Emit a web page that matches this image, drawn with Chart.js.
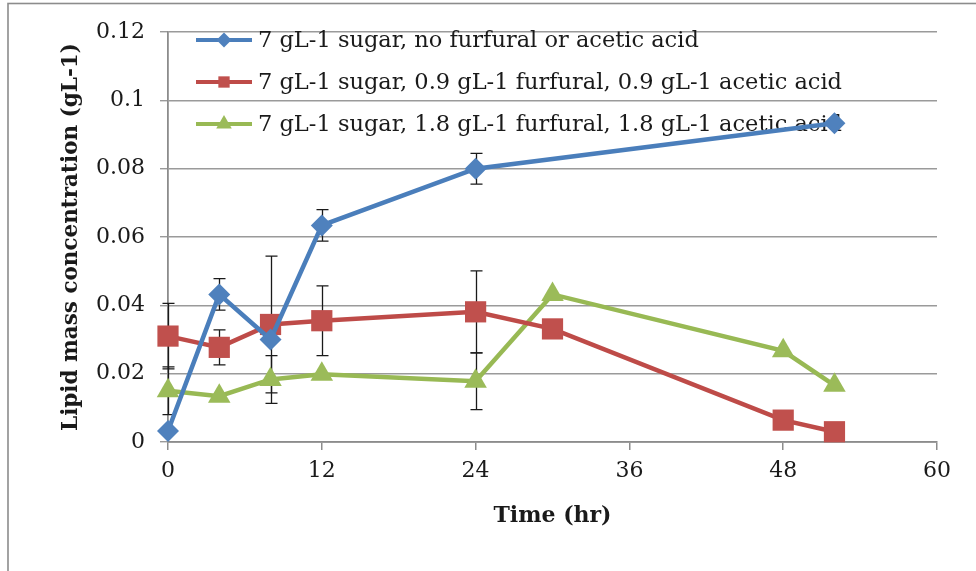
<!DOCTYPE html>
<html>
<head>
<meta charset="utf-8">
<script src="https://cdn.jsdelivr.net/npm/chart.js@4/dist/chart.umd.min.js"></script>
<style>
  html, body { margin: 0; padding: 0; background: #fff; }
  #wrap { width: 976px; height: 571px; position: relative; }
</style>
</head>
<body>
<div id="wrap"><canvas id="c" width="976" height="571"></canvas></div>
<script>
// Sampling times (hr)
const timesNone = [0, 4, 8, 12, 24, 52];
const timesLow = [0, 4, 8, 12, 24, 30, 48, 52];
const timesHigh = [0, 4, 8, 12, 24, 30, 48, 52];

// Lipid mass concentration (gL-1)
const lipidNone = [0.0032, 0.0432, 0.0300, 0.0634, 0.0800, 0.0933];
const lipidLow = [0.0310, 0.0277, 0.0344, 0.0355, 0.0381, 0.0331, 0.0064, 0.0030];
const lipidHigh = [0.0150, 0.0134, 0.0183, 0.0198, 0.0178, 0.0432, 0.0267, 0.0166];

// Error bar half-widths (null = no bar)
const errNone = [null, 0.0046, null, 0.0046, 0.0045, null];
const errLow = [0.0096, 0.0051, 0.0200, 0.0102, 0.0120, null, null, null];
const errHigh = [0.0070, null, 0.0070, null, 0.0083, null, null, null];

const seriesNames = [
  '7 gL-1 sugar, no furfural or acetic acid',
  '7 gL-1 sugar, 0.9 gL-1 furfural, 0.9 gL-1 acetic acid',
  '7 gL-1 sugar, 1.8 gL-1 furfural, 1.8 gL-1 acetic acid'
];

const xTicks = [0, 12, 24, 36, 48, 60];
const yTicks = [0, 0.02, 0.04, 0.06, 0.08, 0.1, 0.12];
const yTickLabels = ['0', '0.02', '0.04', '0.06', '0.08', '0.1', '0.12'];

const xTitle = 'Time (hr)';
const yTitle = 'Lipid mass concentration (gL-1)';

const FONT = "'DejaVu Serif', 'Liberation Serif', serif";

const toPoints = (xs, ys) => xs.map((x, i) => ({ x: x, y: ys[i] }));

const styles = [
  { line: '#4a7ebb', fill: '#4f81bd', shape: 'rectRot', r: 11, lr: 7.5 },
  { line: '#be4b48', fill: '#c0504d', shape: 'rect', r: 15, lr: 8 },
  { line: '#98b954', fill: '#9bbb59', shape: 'triangle', r: 13, lr: 9 }
];

const datasets = [
  { data: toPoints(timesNone, lipidNone), errors: errNone },
  { data: toPoints(timesLow, lipidLow), errors: errLow },
  { data: toPoints(timesHigh, lipidHigh), errors: errHigh }
].map((d, i) => ({
  label: seriesNames[i],
  data: d.data,
  errors: d.errors,
  borderColor: styles[i].line,
  backgroundColor: styles[i].fill,
  borderWidth: 4.5,
  pointStyle: styles[i].shape,
  pointRadius: styles[i].r,
  pointBackgroundColor: styles[i].fill,
  pointBorderColor: styles[i].fill,
  pointBorderWidth: 0,
  tension: 0,
  fill: false,
  clip: false
}));

// White page with the grey frame round the chart
const framePlugin = {
  id: 'frame',
  beforeDraw(chart) {
    const ctx = chart.ctx;
    ctx.save();
    ctx.fillStyle = '#ffffff';
    ctx.fillRect(0, 0, chart.width, chart.height);
    ctx.strokeStyle = '#8c8c8c';
    ctx.lineWidth = 1.6;
    ctx.strokeRect(8, 3.5, chart.width + 20, chart.height + 20);
    ctx.restore();
  }
};

// Vertical error bars with caps, under the markers
const errorBarPlugin = {
  id: 'errorBars',
  beforeDatasetsDraw(chart) {
    const ctx = chart.ctx;
    const yScale = chart.scales.y;
    const cap = 6;
    ctx.save();
    ctx.strokeStyle = '#1a1a1a';
    ctx.lineWidth = 1.3;
    chart.data.datasets.forEach((ds, di) => {
      const meta = chart.getDatasetMeta(di);
      ds.errors.forEach((e, i) => {
        if (e == null) return;
        const v = ds.data[i].y;
        const x = Math.round(meta.data[i].x) + 0.5;
        const yTop = yScale.getPixelForValue(v + e);
        const yBot = yScale.getPixelForValue(v - e);
        ctx.beginPath();
        ctx.moveTo(x, yTop);
        ctx.lineTo(x, yBot);
        ctx.moveTo(x - cap, yTop);
        ctx.lineTo(x + cap, yTop);
        ctx.moveTo(x - cap, yBot);
        ctx.lineTo(x + cap, yBot);
        ctx.stroke();
      });
    });
    ctx.restore();
  }
};

// Legend drawn inside the plot area, beneath the series lines
const legendPlugin = {
  id: 'insideLegend',
  beforeDatasetsDraw(chart) {
    const ctx = chart.ctx;
    const x0 = 196, x1 = 252, tx = 258;
    const rows = [40, 82, 124];
    ctx.save();
    chart.data.datasets.forEach((ds, i) => {
      const y = rows[i];
      ctx.strokeStyle = ds.borderColor;
      ctx.lineWidth = 4;
      ctx.beginPath();
      ctx.moveTo(x0, y);
      ctx.lineTo(x1, y);
      ctx.stroke();
      ctx.fillStyle = ds.pointBackgroundColor;
      ctx.strokeStyle = ds.pointBackgroundColor;
      Chart.helpers.drawPoint(ctx, {
        pointStyle: ds.pointStyle, radius: styles[i].lr, rotation: 0, borderWidth: 0
      }, (x0 + x1) / 2, y);
      ctx.fillStyle = '#1a1a1a';
      ctx.font = '22.5px ' + FONT;
      ctx.textBaseline = 'middle';
      ctx.textAlign = 'left';
      ctx.fillText(ds.label, tx, y + 1);
    });
    ctx.restore();
  }
};

new Chart(document.getElementById('c'), {
  type: 'line',
  data: { datasets: datasets },
  plugins: [framePlugin, errorBarPlugin, legendPlugin],
  options: {
    responsive: false,
    animation: false,
    layout: { padding: { top: 32, right: 39, left: 0, bottom: 0 } },
    plugins: { legend: { display: false }, tooltip: { enabled: false } },
    scales: {
      x: {
        type: 'linear',
        min: 0,
        max: 60,
        afterBuildTicks(scale) { scale.ticks = xTicks.map(v => ({ value: v })); },
        afterFit(scale) { scale.height = 129; },
        ticks: {
          color: '#1a1a1a',
          font: { family: FONT, size: 22 },
          padding: 8,
          maxRotation: 0
        },
        grid: {
          drawOnChartArea: false,
          drawTicks: true,
          tickLength: 8,
          color: '#8c8c8c',
          lineWidth: 1.5
        },
        border: { display: true, color: '#8c8c8c', width: 1.8 },
        title: {
          display: true,
          text: xTitle,
          color: '#1a1a1a',
          font: { family: FONT, size: 22, weight: 'bold' },
          padding: { top: 0, bottom: 42 }
        }
      },
      y: {
        type: 'linear',
        min: 0,
        max: 0.12,
        afterBuildTicks(scale) { scale.ticks = yTicks.map(v => ({ value: v })); },
        afterFit(scale) { scale.width = 168; },
        ticks: {
          color: '#1a1a1a',
          font: { family: FONT, size: 22 },
          padding: 15,
          callback: (v) => yTickLabels[yTicks.findIndex(t => Math.abs(t - v) < 1e-9)]
        },
        grid: {
          drawOnChartArea: true,
          drawTicks: true,
          tickLength: 8,
          color: '#9a9a9a',
          lineWidth: 1.4
        },
        border: { display: true, color: '#8c8c8c', width: 1.8 },
        title: {
          display: true,
          text: yTitle,
          color: '#1a1a1a',
          font: { family: FONT, size: 21.5, weight: 'bold' },
          padding: { top: 59, bottom: 0 }
        }
      }
    }
  }
});
</script>
</body>
</html>
